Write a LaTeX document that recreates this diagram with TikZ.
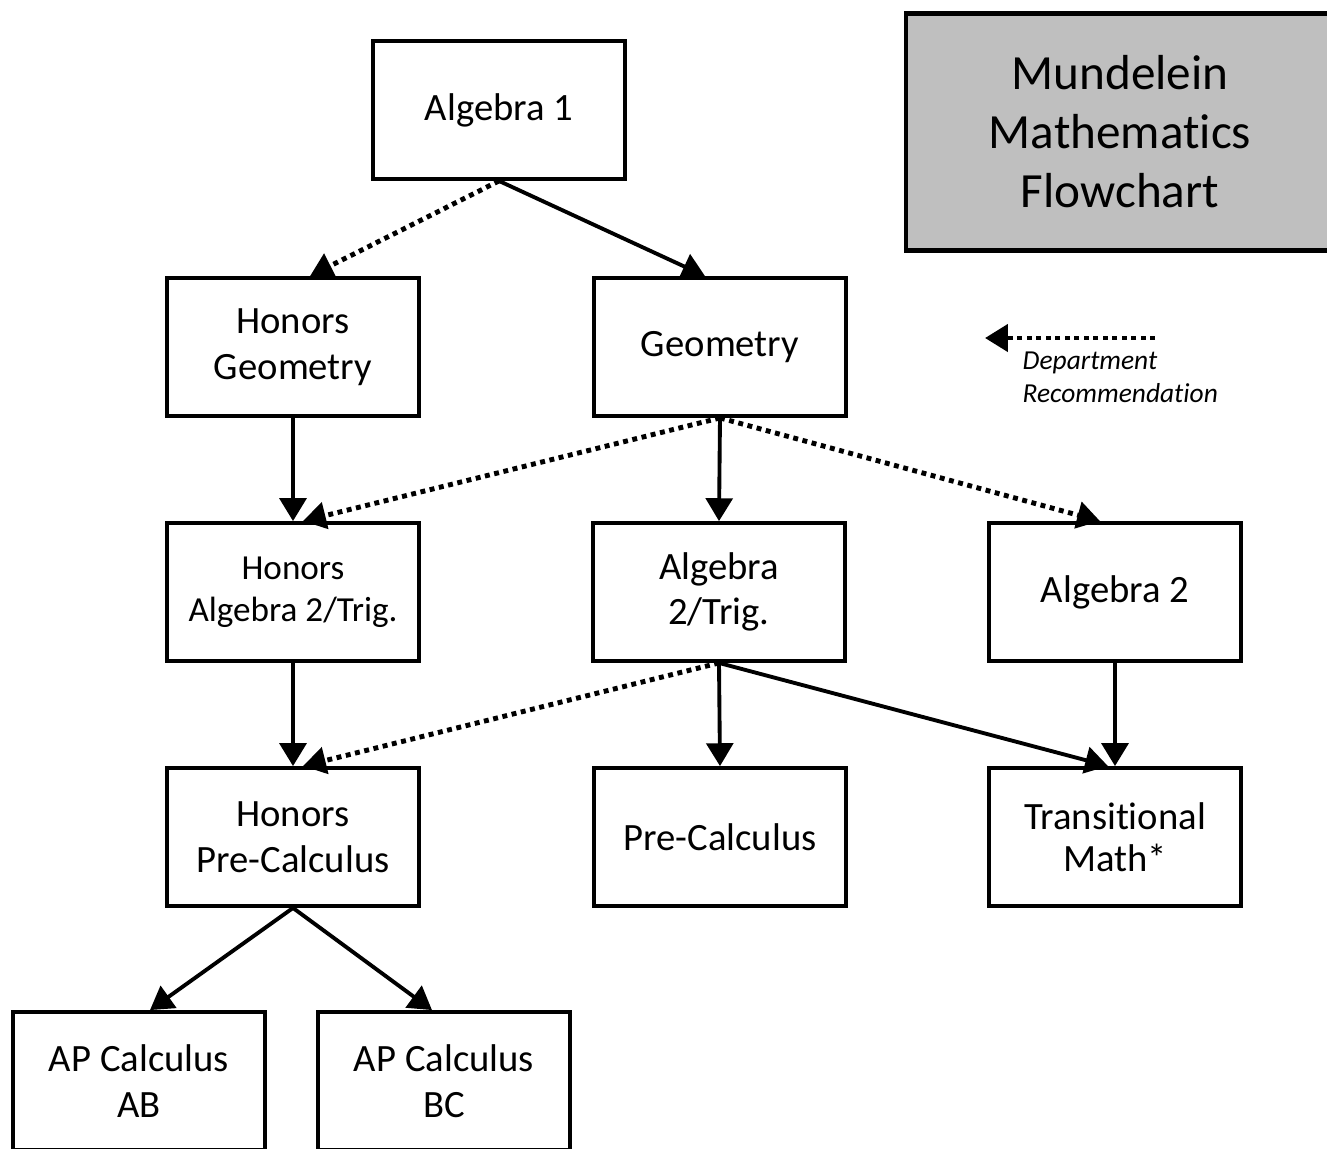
\documentclass[tikz,border=0pt]{standalone}
\usepackage{fontspec}
\setmainfont{Carlito}[Ligatures={NoCommon,NoContextual}]
\usepackage{tikz}
\usetikzlibrary{arrows.meta}
\newcommand{\legendfont}{\fontsize{7.8}{9.4}\selectfont\itshape}

\tikzset{
  course/.style={draw,line width=1.1pt,minimum width=2.52cm,minimum height=1.38cm,inner sep=0pt,align=center,font=\fontsize{11}{13}\selectfont},
  solidarrow/.style={line width=1.1pt,-{Triangle[width=7.6pt,length=6.5pt]}},
  recarrow/.style={solidarrow,line width=1.4pt,dash pattern=on 1.4pt off 1.3pt},
}

\begin{document}
\begin{tikzpicture}[x=1cm,y=-1cm]
    \clip (0,0) rectangle (13.27,11.48);

    \node at (11.20,1.32) [draw,fill=gray!50,line width=1.3pt,minimum width=4.28cm,minimum height=2.37cm,align=center,font=\fontsize{14}{16.8}\selectfont] (title) {
      Mundelein\\Mathematics\\Flowchart
    };

    \node at (4.99,1.10) [course] (alg1) {Algebra 1};
    \node at (2.93,3.47) [course] (hongeo) {Honors\\Geometry};
    \node at (7.20,3.47) [course] (geo) {Geometry};
    \node at (2.93,5.92) [course,font=\fontsize{10}{12}\selectfont] (honalg) {Honors\\Algebra 2/Trig.};
    \node at (7.19,5.92) [course] (algtrig) {Algebra\\2/Trig.};
    \node at (11.15,5.92) [course] (alg2) {Algebra 2};
    \node at (2.93,8.37) [course] (honpre) {Honors\\Pre-Calculus};
    \node at (7.20,8.37) [course] (pre) {Pre-Calculus};
    \node at (11.15,8.37) [course,font=\fontsize{11}{12}\selectfont] (trans) {Transitional\\Math*};
    \node at (1.39,10.81) [course] (ab) {AP Calculus\\AB};
    \node at (4.44,10.81) [course] (bc) {AP Calculus\\BC};

    \draw[recarrow] (alg1.south) -- ([xshift=0.17cm]hongeo.north);
    \draw[solidarrow] (alg1.south) -- ([xshift=-0.15cm]geo.north);
    \draw[solidarrow] (hongeo.south) -- (honalg.north);
    \draw[recarrow] (geo.south) -- ([xshift=0.1cm]honalg.north);
    \draw[solidarrow] (geo.south) -- (algtrig.north);
    \draw[recarrow] (geo.south) -- ([xshift=-0.15cm]alg2.north);
    \draw[solidarrow] (honalg.south) -- (honpre.north);
    \draw[recarrow] (algtrig.south) -- ([xshift=0.1cm]honpre.north);
    \draw[solidarrow] (algtrig.south) -- (pre.north);
    \draw[solidarrow] (algtrig.south) -- ([xshift=-0.07cm]trans.north);
    \draw[solidarrow] (alg2.south) -- (trans.north);
    \draw[solidarrow] (honpre.south) -- ([xshift=0.11cm]ab.north);
    \draw[solidarrow] (honpre.south) -- ([xshift=-0.12cm]bc.north);

    % legend
    \coordinate (legfrom) at (11.55,3.38);
    \coordinate (legto) at (9.85,3.38);
    \draw[recarrow] (legfrom) -- (legto);
    \node at (10.22,3.77) [anchor=west,inner sep=0pt,align=left,font=\legendfont] (legtext) {
      Department\\Recommendation
    };
\end{tikzpicture}
\end{document}
